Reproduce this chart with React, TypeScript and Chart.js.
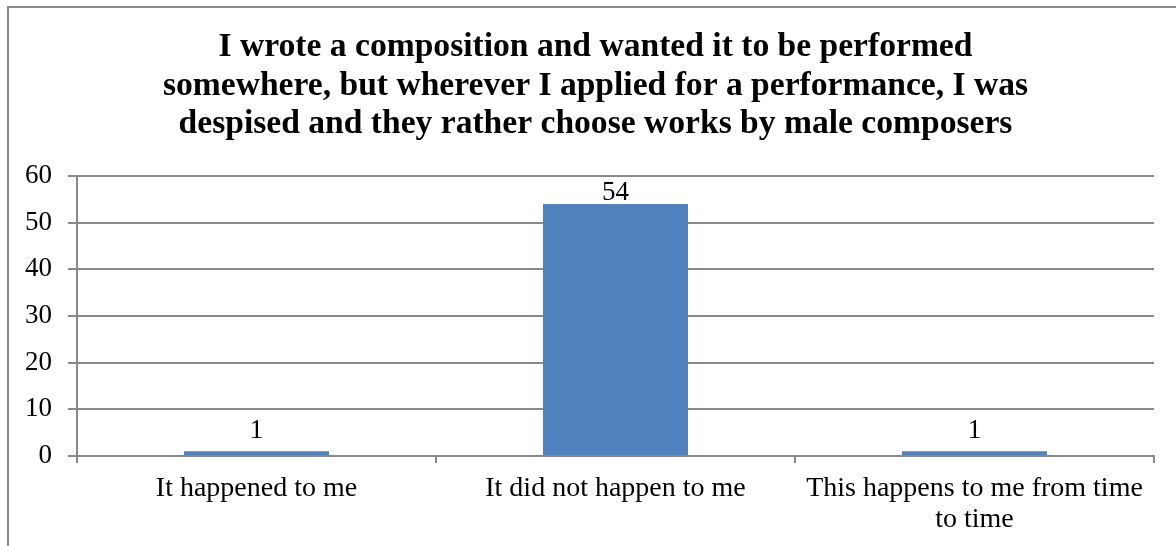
import React, { useEffect, useRef } from "react";
import { Chart, registerables } from "chart.js";

Chart.register(...registerables);

const titleLines = [
  "I wrote a composition and wanted it to be performed",
  "somewhere, but wherever I applied for a performance, I was",
  "despised and they rather choose works by male composers",
];
const categories = [
  ["It happened to me"],
  ["It did not happen to me"],
  ["This happens to me from time", "to time"],
];
const values = [1, 54, 1];
const yMin = 0;
const yMax = 60;
const yStep = 10;

const FONT = "'Liberation Serif', 'Times New Roman', serif";
const GRAY = "#898989";
const BAR = "#4F81BD";

const framePlugin = {
  id: "frame",
  beforeDraw(chart: any) {
    const { ctx, width, height } = chart;
    ctx.save();
    ctx.fillStyle = "#ffffff";
    ctx.fillRect(0, 0, width, height);
    ctx.strokeStyle = GRAY;
    ctx.lineWidth = 2;
    ctx.beginPath();
    ctx.moveTo(8, height + 5);
    ctx.lineTo(8, 7);
    ctx.lineTo(width + 5, 7);
    ctx.stroke();
    ctx.restore();
  },
};

// centre the title within the chart frame rather than the padded box
const titleShiftPlugin = {
  id: "titleShift",
  afterLayout(chart: any) {
    const tb = chart.titleBlock;
    if (tb) {
      tb.left = 37;
      tb.right = chart.chartArea.right;
    }
  },
};

const labelPlugin = {
  id: "valueLabels",
  afterDatasetsDraw(chart: any) {
    const { ctx, chartArea } = chart;
    const meta = chart.getDatasetMeta(0);
    ctx.save();
    ctx.fillStyle = "#000000";
    ctx.font = `27px ${FONT}`;
    ctx.textAlign = "center";
    ctx.textBaseline = "alphabetic";
    meta.data.forEach((bar: any, i: number) => {
      let y = bar.y - 13;
      y = Math.max(y, chartArea.top + 24);
      ctx.fillText(String(values[i]), bar.x, y);
    });
    ctx.restore();
  },
};

export default function App() {
  const ref = useRef<HTMLCanvasElement | null>(null);

  useEffect(() => {
    if (!ref.current) return;
    const chart = new Chart(ref.current, {
      type: "bar",
      data: {
        labels: categories,
        datasets: [
          {
            data: values,
            backgroundColor: BAR,
            borderWidth: 0,
            barPercentage: 0.404,
            categoryPercentage: 1,
          },
        ],
      },
      options: {
        responsive: false,
        animation: false,
        devicePixelRatio: 1,
        layout: { padding: { left: 20, right: 22, top: 0, bottom: 0 } },
        plugins: {
          legend: { display: false },
          tooltip: { enabled: false },
          title: {
            display: true,
            text: titleLines,
            color: "#000000",
            font: { family: FONT, size: 33.6, weight: "bold", lineHeight: 1.146 },
            padding: { top: 28.2, bottom: 32.3 },
          },
        },
        scales: {
          x: {
            grid: {
              drawOnChartArea: false,
              drawTicks: true,
              tickLength: 7,
              color: GRAY,
              lineWidth: 2,
              offset: true,
            },
            border: { display: true, color: GRAY, width: 2 },
            ticks: {
              color: "#000000",
              font: { family: FONT, size: 28, lineHeight: 1.107 },
              padding: 10,
              maxRotation: 0,
              minRotation: 0,
              autoSkip: false,
            },
            afterFit(scale: any) {
              scale.height = 90;
            },
          },
          y: {
            min: yMin,
            max: yMax,
            grid: { color: GRAY, lineWidth: 2, tickLength: 9 },
            border: { display: true, color: GRAY, width: 2 },
            ticks: {
              stepSize: yStep,
              color: "#000000",
              font: { family: FONT, size: 27 },
              padding: 16,
            },
            afterFit(scale: any) {
              scale.width = 57;
            },
          },
        },
      },
      plugins: [framePlugin, titleShiftPlugin, labelPlugin],
    });
    return () => chart.destroy();
  }, []);

  return (
    <div style={{ position: "fixed", left: 0, top: 0, width: 1176, height: 546, overflow: "hidden" }}>
      <canvas ref={ref} width={1176} height={546} style={{ display: "block" }} />
    </div>
  );
}
